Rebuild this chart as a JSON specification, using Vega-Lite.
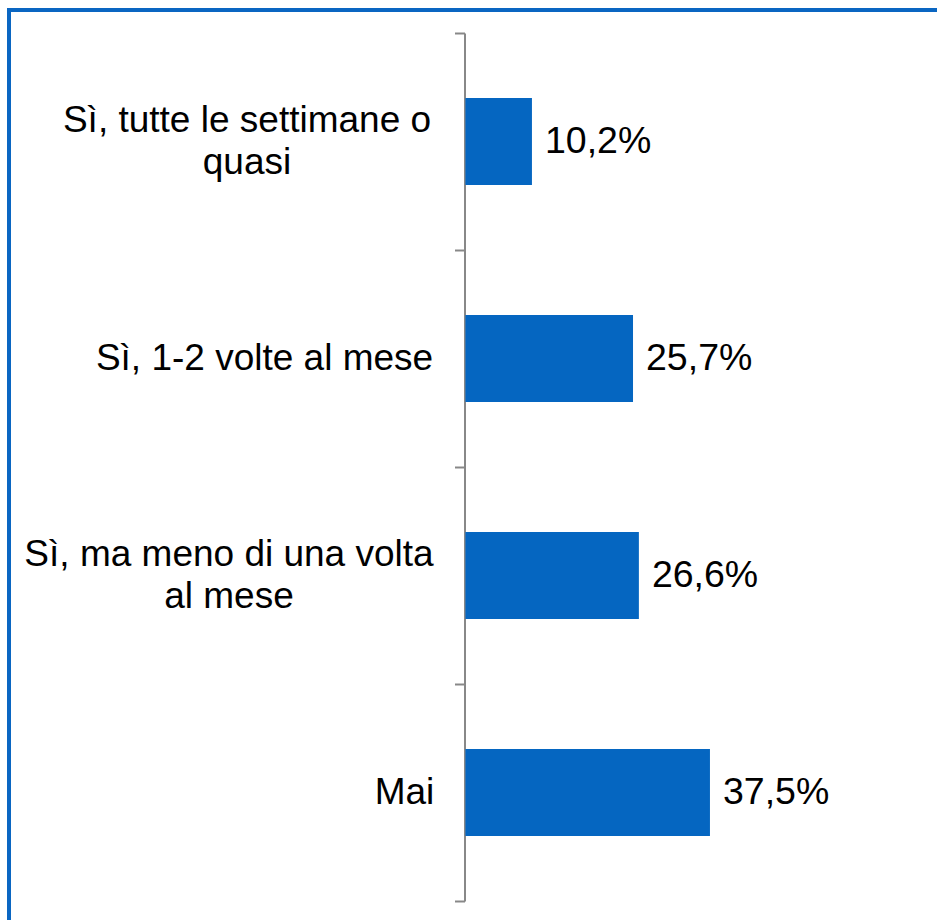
{
  "$schema": "https://vega.github.io/schema/vega-lite/v6.json",
  "width": 937,
  "height": 914,
  "autosize": {"type": "none"},
  "padding": {"left": 9, "top": 10, "right": 0, "bottom": 0},
  "background": "white",
  "config": {
    "view": {"stroke": "#0a66c2", "strokeWidth": 4},
    "font": "Liberation Sans",
    "locale": {"number": {"decimal": ",", "thousands": ".", "grouping": [3], "currency": ["", " €"]}}
  },
  "data": {
    "values": [
      {"risposta": "Sì, tutte le settimane o quasi", "quota": 0.102},
      {"risposta": "Sì, 1-2 volte al mese", "quota": 0.257},
      {"risposta": "Sì, ma meno di una volta al mese", "quota": 0.266},
      {"risposta": "Mai", "quota": 0.375}
    ]
  },
  "encoding": {
    "y": {
      "field": "risposta",
      "type": "nominal",
      "sort": null,
      "scale": {"range": [23, 891], "paddingInner": 0, "paddingOuter": 0},
      "axis": {
        "title": null,
        "orient": "left",
        "offset": -455.5,
        "domain": true,
        "domainColor": "#888888",
        "domainWidth": 2,
        "ticks": true,
        "tickBand": "extent",
        "tickSize": 10,
        "tickColor": "#888888",
        "tickWidth": 2,
        "labelFont": "Liberation Sans",
        "labelFontSize": 37,
        "labelColor": "#000000",
        "labelAlign": "center",
        "labelBaseline": "middle",
        "labelLineHeight": 42,
        "labelLimit": 0,
        "labelOverlap": false,
        "labelFlush": false,
        "labelExpr": "datum.value === 'Sì, tutte le settimane o quasi' ? ['Sì, tutte le settimane o', 'quasi'] : datum.value === 'Sì, ma meno di una volta al mese' ? ['Sì, ma meno di una volta', 'al mese'] : datum.value",
        "labelOffset": {
          "condition": [
            {"test": "datum.value === 'Sì, tutte le settimane o quasi'", "value": -21},
            {"test": "datum.value === 'Sì, ma meno di una volta al mese'", "value": -21}
          ],
          "value": 0
        },
        "labelPadding": {
          "condition": [
            {"test": "datum.value === 'Sì, tutte le settimane o quasi'", "value": 208},
            {"test": "datum.value === 'Sì, 1-2 volte al mese'", "value": 190.5},
            {"test": "datum.value === 'Sì, ma meno di una volta al mese'", "value": 226}
          ],
          "value": 50.5
        }
      }
    }
  },
  "layer": [
    {
      "mark": {"type": "bar", "color": "#0566c1", "height": {"band": 0.4}},
      "encoding": {
        "x": {"field": "quota", "type": "quantitative", "scale": {"domain": [-0.70, 0.737], "nice": false, "zero": false}, "axis": null}
      }
    },
    {
      "mark": {"type": "text", "align": "left", "baseline": "middle", "dx": 13, "fontSize": 37.5, "font": "Liberation Sans", "color": "#000000"},
      "encoding": {
        "x": {"field": "quota", "type": "quantitative"},
        "text": {"field": "quota", "type": "quantitative", "format": ".1%"}
      }
    }
  ]
}
